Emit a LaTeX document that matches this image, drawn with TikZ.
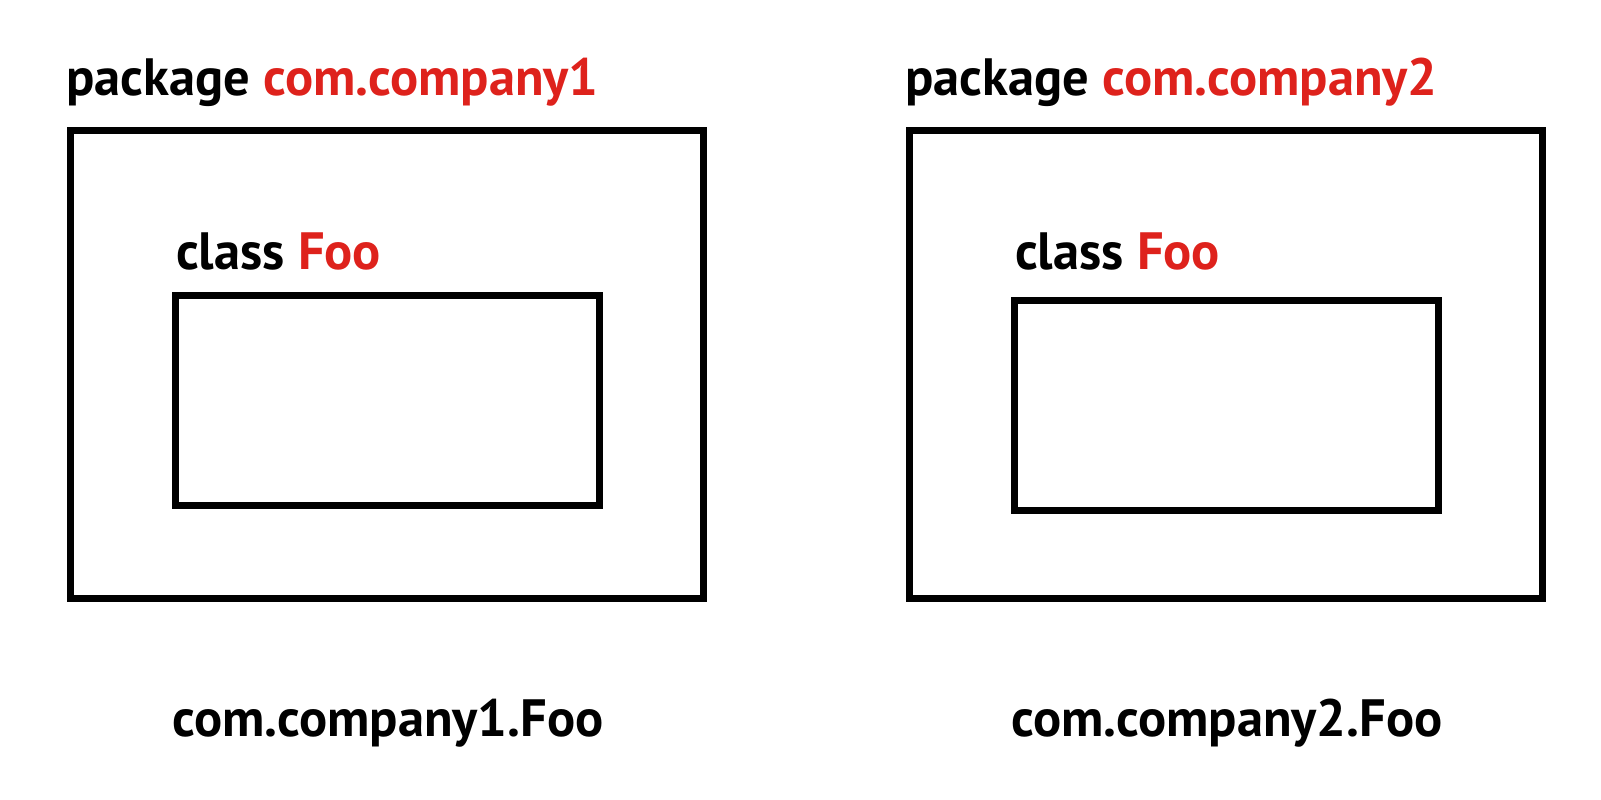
\documentclass[tikz,border=0pt]{standalone}
\usepackage{fontspec}
\setmainfont{PT Sans}
\usepackage{xcolor}
\definecolor{pkgred}{RGB}{222,34,28}
\tikzset{
    pkgbox/.style={
        draw=black,
        line width=7pt,
        rectangle,
        minimum width=633pt,
        minimum height=468pt,
        inner sep=0pt,
        outer sep=0pt,
        anchor=north west
    },
    clsbox/.style={
        draw=black,
        line width=7pt,
        rectangle,
        minimum width=424pt,
        minimum height=210pt,
        inner sep=0pt,
        outer sep=0pt,
        anchor=north west
    },
    boxlabel/.style={
        font=\fontsize{52.5}{60}\selectfont\bfseries,
        inner sep=0pt,
        anchor=base west
    }
}

\begin{document}
\begin{tikzpicture}[x=1pt,y=1pt]

\useasboundingbox (0,0) rectangle (1601,800);

% ---------------------------------------------------------
% Two packages, each holding a class Foo
% ---------------------------------------------------------
\foreach \pkg/\dx/\dy [count=\i] in {company1/0/0, company2/839/5}
{
    % Package box
    \node[pkgbox] (pkg\i) at (70+\dx,669) {};
    \node[boxlabel] (pkglabel\i) at (66+\dx,704)
        {package \textcolor{pkgred}{com.\pkg}};

    % Class box
    \node[clsbox] (cls\i) at (175+\dx,504-\dy) {};
    \node[boxlabel] (clslabel\i) at (176+\dx,530)
        {class \textcolor{pkgred}{Foo}};

    % Fully qualified name
    \node[boxlabel] (fqn\i) at (172+\dx,63) {com.\pkg.Foo};
}

\end{tikzpicture}
\end{document}
